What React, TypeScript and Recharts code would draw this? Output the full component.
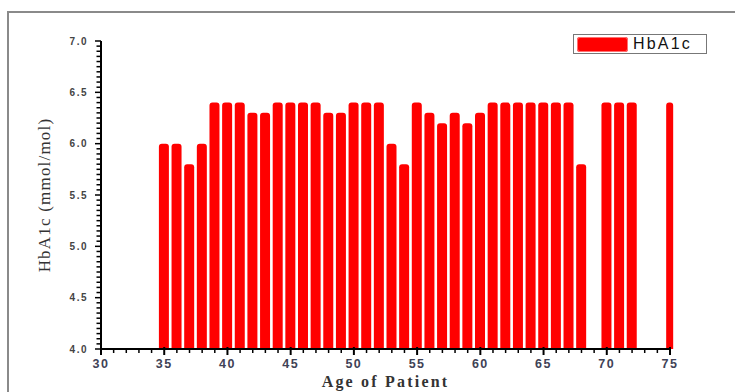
import { BarChart, Bar, XAxis, YAxis, Legend, Rectangle, Label } from "recharts"

const ages = [
  35, 36, 37, 38, 39, 40, 41, 42, 43, 44, 45, 46, 47, 48, 49, 50, 51, 52, 53, 54,
  55, 56, 57, 58, 59, 60, 61, 62, 63, 64, 65, 66, 67, 68, 70, 71, 72, 75,
]
const hba1c = [
  6.0, 6.0, 5.8, 6.0, 6.4, 6.4, 6.4, 6.3, 6.3, 6.4, 6.4, 6.4, 6.4, 6.3, 6.3, 6.4, 6.4, 6.4, 6.0, 5.8,
  6.4, 6.3, 6.2, 6.3, 6.2, 6.3, 6.4, 6.4, 6.4, 6.4, 6.4, 6.4, 6.4, 5.8, 6.4, 6.4, 6.4, 6.4,
]
// labelled every 5 years / every 0.5, small marks in between
const xTicks = Array.from({ length: 46 }, (_, i) => 30 + i)
const yTicks = Array.from({ length: 61 }, (_, i) => Math.round((4 + i * 0.05) * 100) / 100)

const data = ages.map((age, i) => ({ age, hba1c: hba1c[i] }))
const lastAge = ages[ages.length - 1]

const RED = "#ff0000"
const X_TICK = 6
const X_MARGIN = 3
const Y_TICK = 6
const Y_MARGIN = 7

function BarShape(props: any) {
  const { x, y, width, height, payload } = props
  // the last bar sits on the axis end and is drawn narrower in the original
  const w = payload.age === lastAge ? width * 0.7 : width
  return (
    <Rectangle
      x={x + (width - w) / 2}
      y={y}
      width={w}
      height={height}
      radius={[3, 3, 0, 0]}
      fill={RED}
    />
  )
}

function XTick(props: any) {
  const { x, y, payload } = props
  const v = payload.value
  const axisY = y - X_TICK - X_MARGIN
  const major = v % 5 === 0
  return (
    <g>
      <line
        x1={x}
        x2={x}
        y1={major ? axisY - 2 : axisY}
        y2={axisY + (major ? X_TICK : 4)}
        stroke="#000"
        strokeWidth={major ? 2 : 1.5}
      />
      {major && (
        <text
          x={x}
          y={y}
          dy="0.8em"
          textAnchor="middle"
          fill="#3f4256"
          fontSize={12.5}
          fontWeight={700}
          fontFamily="Liberation Sans, Arial, sans-serif"
          letterSpacing={1.5}
        >
          {v}
        </text>
      )}
    </g>
  )
}

function YTick(props: any) {
  const { x, y, payload } = props
  const v = payload.value
  const axisX = x + Y_TICK + Y_MARGIN
  const major = Math.abs(v * 2 - Math.round(v * 2)) < 1e-6
  return (
    <g>
      <line
        x1={axisX - (major ? Y_TICK : 4.5)}
        x2={axisX}
        y1={y}
        y2={y}
        stroke="#000"
        strokeWidth={1.5}
      />
      {major && (
        <text
          x={x}
          y={y}
          dy="0.355em"
          textAnchor="end"
          fill="#444"
          fontSize={10}
          fontWeight={700}
          fontFamily="Liberation Sans, Arial, sans-serif"
          letterSpacing={1.5}
        >
          {v.toFixed(1)}
        </text>
      )}
    </g>
  )
}

function LegendBox() {
  return (
    <div
      style={{
        width: 134,
        height: 20,
        border: "1px solid #777",
        background: "#fff",
        display: "flex",
        alignItems: "center",
        boxSizing: "border-box",
      }}
    >
      <div
        style={{
          width: 51,
          height: 15,
          marginLeft: 3,
          background: RED,
          borderRadius: 3,
          boxShadow: "0 0 0 1px #ff7070 inset",
        }}
      />
      <span
        style={{
          marginLeft: 5,
          fontFamily: "Liberation Sans, Arial, sans-serif",
          fontSize: 16,
          letterSpacing: 2.2,
          color: "#111",
        }}
      >
        HbA1c
      </span>
    </div>
  )
}

function YTitle() {
  return (
    <text
      x={44}
      y={195}
      transform="rotate(-90 44 195)"
      textAnchor="middle"
      dominantBaseline="central"
      fontFamily="Liberation Serif, Times New Roman, serif"
      fontSize={17}
      letterSpacing={1.2}
      fill="#333"
    >
      HbA1c (mmol/mol)
    </text>
  )
}

export default function App() {
  return (
    <div style={{ position: "absolute", left: 0, top: 0, width: 735, height: 392, background: "#fff", overflow: "hidden" }}>
      <div
        style={{
          position: "absolute",
          left: 7,
          top: 11,
          width: 740,
          height: 400,
          border: "2px solid #8a8a8a",
        }}
      />
      <div style={{ position: "absolute", left: 0, top: 0 }}>
        <BarChart
          width={735}
          height={392}
          data={data}
          margin={{ top: 41, right: 65, bottom: 0, left: 0 }}
        >
          <XAxis
            dataKey="age"
            type="number"
            domain={[30, 75]}
            ticks={xTicks}
            interval={0}
            tickSize={X_TICK}
            tickMargin={X_MARGIN}
            height={43}
            axisLine={{ stroke: "#000", strokeWidth: 2 }}
            tickLine={false}
            tick={<XTick />}
          >
            <Label
              value="Age of Patient"
              position="insideBottom"
              offset={5}
              style={{
                fontFamily: "Liberation Serif, Times New Roman, serif",
                fontSize: 16,
                fontWeight: 700,
                letterSpacing: 2.2,
                fill: "#333",
              }}
            />
          </XAxis>
          <YAxis
            type="number"
            domain={[4, 7]}
            ticks={yTicks}
            interval={0}
            width={101}
            tickSize={Y_TICK}
            tickMargin={Y_MARGIN}
            axisLine={{ stroke: "#000", strokeWidth: 2 }}
            tickLine={false}
            tick={<YTick />}
          >
            <Label content={() => <YTitle />} />
          </YAxis>
          <Legend
            layout="vertical"
            align="center"
            verticalAlign="middle"
            content={() => <LegendBox />}
            wrapperStyle={{ left: 573, top: 34, width: 134, height: 20 }}
          />
          <Bar
            dataKey="hba1c"
            name="HbA1c"
            barSize={10}
            fill={RED}
            shape={BarShape}
            isAnimationActive={false}
          />
        </BarChart>
      </div>
    </div>
  )
}
